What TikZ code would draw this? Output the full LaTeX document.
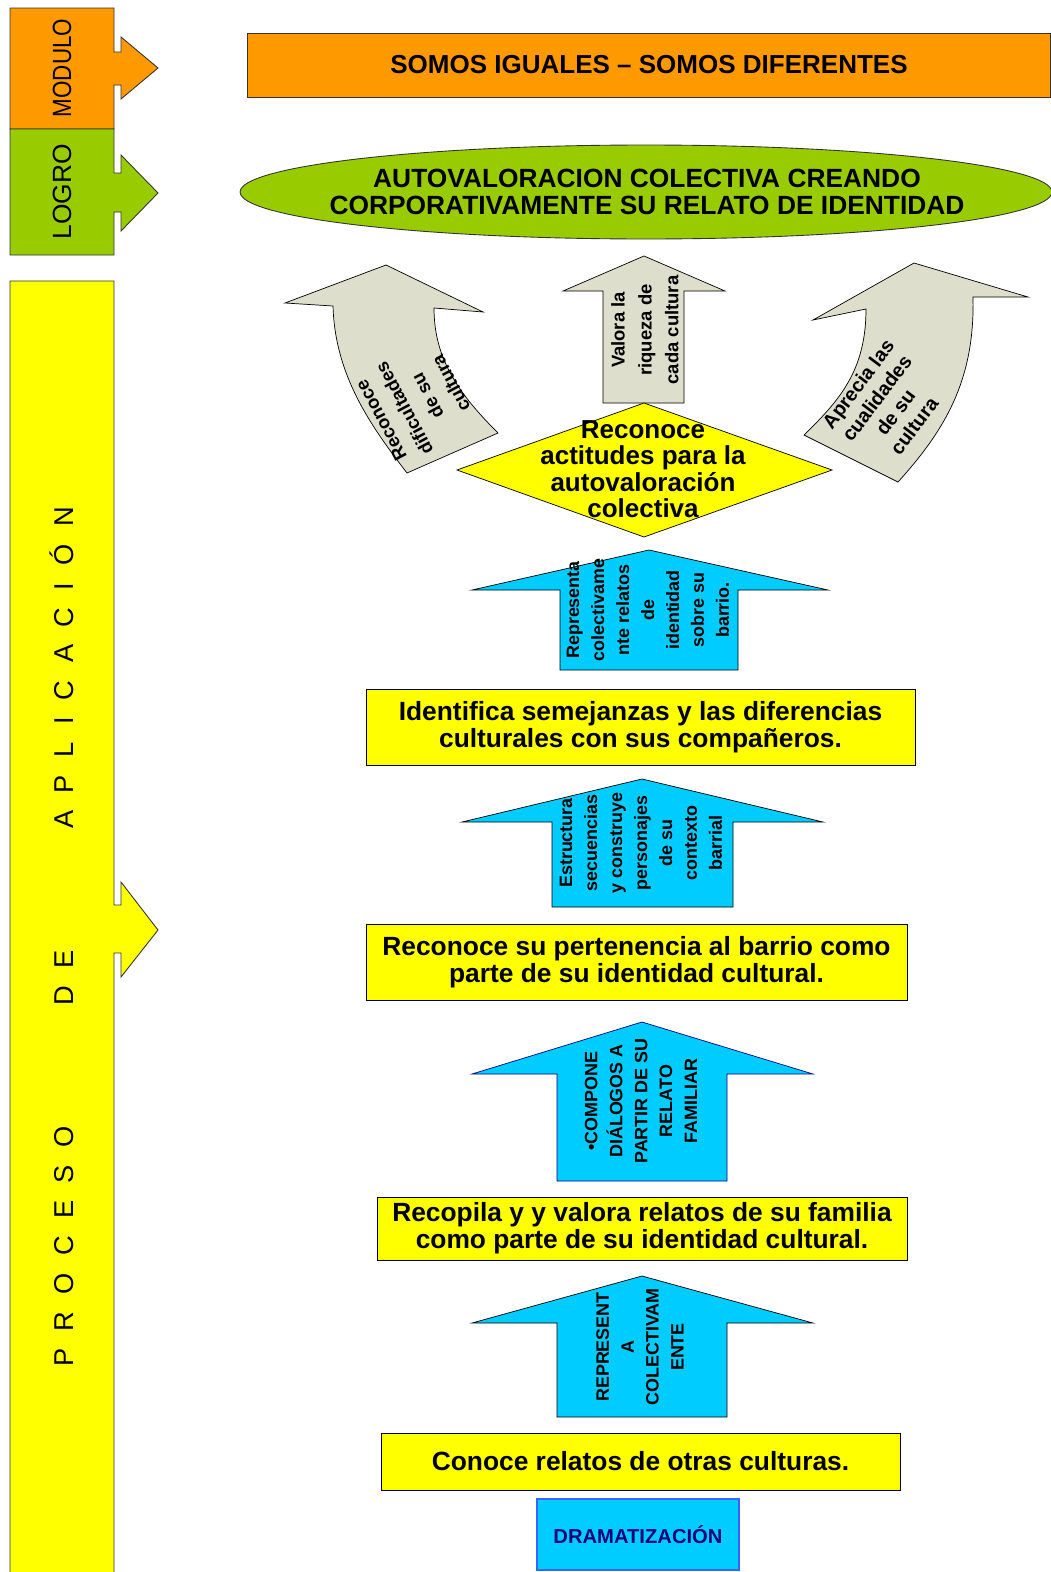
\documentclass[tikz,border=0pt]{standalone}
\usepackage{xcolor}
\usepackage{graphicx}
\usepackage{fontspec}
\setmainfont{Liberation Sans}
\usepackage{tikz}

\definecolor{naranja}{RGB}{255,153,0}
\definecolor{verde}{RGB}{153,204,0}
\definecolor{amarillo}{RGB}{255,255,0}
\definecolor{celeste}{RGB}{0,204,255}
\definecolor{grisverde}{RGB}{221,222,204}
\definecolor{azuloscuro}{RGB}{0,0,128}
\definecolor{azulborde}{RGB}{51,102,255}

\tikzset{
  caja/.style={draw=black, fill=amarillo, line width=0.5pt, inner sep=0pt, align=center,
    font=\fontsize{15}{15.3}\selectfont\bfseries},
  flechaazul/.style={draw=black, fill=celeste, line width=0.4pt},
  flechagris/.style={draw=black, fill=grisverde, line width=0.4pt},
  textoflecha/.style={rotate=90, align=center, inner sep=0pt, font=\fontsize{10.2}{14.2}\selectfont\bfseries},
  textogris/.style={align=center, inner sep=0pt, font=\fontsize{10.5}{15}\selectfont\bfseries},
  lateral/.style={draw=black!80, line width=0.5pt},
}

\begin{document}
\begin{tikzpicture}[x=0.02cm, y=-0.02cm]
  \useasboundingbox (0,0) rectangle (1051,1572);

  % columna izquierda
  \draw[lateral, fill=naranja] (10,8) -- (114,8) -- (114,52) -- (121,52) -- (121,37) -- (158,68)
    -- (121,99) -- (121,85) -- (114,85) -- (114,129) -- (10,129) -- cycle;
  \draw[lateral, fill=verde] (10,129) -- (114,129) -- (114,173) -- (121,173) -- (121,155) -- (158,193)
    -- (121,231) -- (121,212) -- (114,212) -- (114,255) -- (10,255) -- cycle;
  \draw[lateral, fill=amarillo] (10,281) -- (114,281) -- (114,905) -- (121,905) -- (121,882) -- (158,930)
    -- (121,977) -- (121,953) -- (114,953) -- (114,1590) -- (10,1590) -- cycle;
  \node[rotate=90, inner sep=0pt, font=\fontsize{15}{15}\selectfont] (modulo) at (62,68) {\scalebox{0.85}[1]{MODULO}};
  \node[rotate=90, inner sep=0pt, font=\fontsize{15}{15}\selectfont] (logro) at (62,192) {LOGRO};
  \node[rotate=90, inner sep=0pt, font=\fontsize{15.5}{15.5}\selectfont] (proceso) at (62,937)
    {\spaceskip=9.9pt P R O C E S O\hspace{69pt}D E\hspace{69pt}A P L I C A C I Ó N};

  % modulo y logro
  \node[draw=black!80, fill=naranja, line width=0.5pt, minimum width=16.08cm, minimum height=1.28cm,
    font=\fontsize{14.8}{15.3}\selectfont\bfseries] (titulo) at (649,65) {SOMOS IGUALES -- SOMOS DIFERENTES};
  \draw[draw=black!80, fill=verde, line width=0.5pt] (646,192) ellipse [x radius=8.12cm, y radius=0.94cm];
  \node[align=center, inner sep=0pt, font=\fontsize{15}{15.3}\selectfont\bfseries] (meta) at (647,192)
    {AUTOVALORACION COLECTIVA CREANDO\\CORPORATIVAMENTE SU RELATO DE IDENTIDAD};

  % flechas grises
  \draw[flechagris] (333,306) -- (285,303) -- (386,265) -- (483,312) -- (434,308)
    .. controls (434,360) and (460,395) .. (498,433) -- (407,473)
    .. controls (370,425) and (335,375) .. (333,306) -- cycle;
  \draw[flechagris] (603,291) -- (563,291) -- (644,256) -- (725,291) -- (684,291) -- (684,403) -- (603,403) -- cycle;
  \draw[flechagris] (866,309) -- (813,320) -- (914,263) -- (1028,297) -- (973,297)
    .. controls (975,380) and (945,430) .. (898,482) -- (804,435)
    .. controls (840,400) and (866,370) .. (866,309) -- cycle;
  \node[textogris, rotate=118] (dificultades) at (416,402) {Reconoce\\dificultades\\de su\\cultura};
  \node[textogris, rotate=90, font=\fontsize{10.5}{15.3}\selectfont\bfseries] (riqueza) at (645,330)
    {Valora la\\riqueza de\\cada cultura};
  \node[textogris, rotate=53, font=\fontsize{11.2}{13.3}\selectfont\bfseries] (cualidades) at (886,405)
    {Aprecia las\\cualidades\\de su\\cultura};

  % rombo
  \draw[fill=amarillo, draw=black, line width=0.4pt] (457,470) -- (644,403) -- (832,470) -- (644,537) -- cycle;
  \node[align=center, inner sep=0pt, font=\fontsize{14.8}{15.1}\selectfont\bfseries] (actitudes) at (643,469)
    {Reconoce\\actitudes para la\\autovaloración\\colectiva};

  % flechas azules
  \draw[flechaazul] (560,590) -- (472,590) -- (649,550) -- (828,590) -- (738,590) -- (738,670) -- (560,670) -- cycle;
  \node[textoflecha] (representa) at (648,610)
    {Representa\\colectivame\\nte relatos\\de\\identidad\\sobre su\\barrio.};
  \draw[flechaazul] (552,822) -- (462,822) -- (642,779) -- (823,822) -- (733,822) -- (733,907) -- (552,907) -- cycle;
  \node[textoflecha] (estructura) at (641,843)
    {Estructura\\secuencias\\y construye\\personajes\\de su\\contexto\\barrial};
  \draw[flechaazul, draw=azuloscuro] (557,1074) -- (472,1074) -- (642,1022) -- (813,1074) -- (727,1074) -- (727,1181) -- (557,1181) -- cycle;
  \node[textoflecha] (compone) at (641,1101)
    {•COMPONE\\DIÁLOGOS A\\PARTIR DE SU\\RELATO\\FAMILIAR};
  \draw[flechaazul] (557,1323) -- (472,1323) -- (642,1276) -- (813,1323) -- (727,1323) -- (727,1417) -- (557,1417) -- cycle;
  \node[textoflecha] (colectiva) at (640,1347)
    {REPRESENT\\A\\COLECTIVAM\\ENTE};

  % cajas amarillas
  \node[caja, minimum width=10.98cm, minimum height=1.52cm] (identifica) at (640.5,727)
    {Identifica semejanzas y las diferencias\\culturales con sus compañeros.};
  \node[caja, minimum width=10.82cm, minimum height=1.52cm] (barrio) at (636.5,962)
    {Reconoce su pertenencia al barrio como\\parte de su identidad cultural.};
  \node[caja, minimum width=10.6cm, minimum height=1.26cm] (recopila) at (642,1228.5)
    {Recopila y y valora relatos de su familia\\como parte de su identidad cultural.};
  \node[caja, minimum width=10.38cm, minimum height=1.14cm] (conoce) at (640.5,1461.5)
    {Conoce relatos de otras culturas.};
  \node[draw=azulborde, fill=celeste, line width=0.6pt, minimum width=4.04cm, minimum height=1.42cm,
    text=azuloscuro, font=\fontsize{11.5}{12}\selectfont\bfseries] (drama) at (638,1534.5) {DRAMATIZACIÓN};
\end{tikzpicture}
\end{document}
